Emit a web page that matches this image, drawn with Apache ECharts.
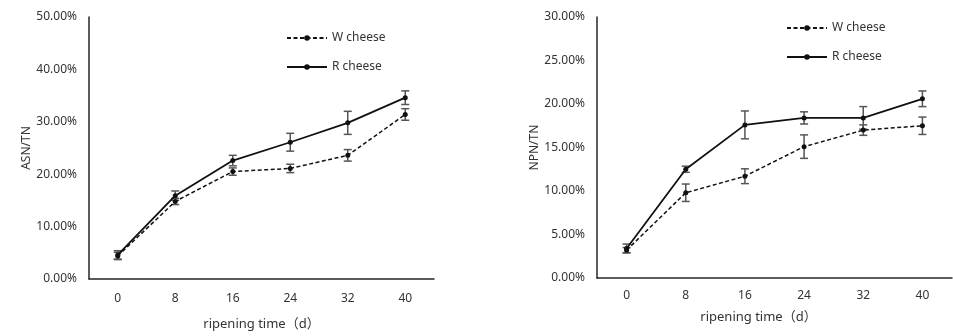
<!DOCTYPE html>
<html>
<head>
<meta charset="utf-8">
<script src="https://cdn.jsdelivr.net/npm/echarts@6/dist/echarts.min.js"></script>
<style>
  html, body { margin: 0; padding: 0; background: #fff; }
  #chart { width: 953px; height: 336px; }
</style>
</head>
<body>
<div id="chart"></div>
<script>
// Ripening time (days)
const days = ['0', '8', '16', '24', '32', '40'];

// ASN/TN (%) with standard deviations
const asnW = [4.4, 14.8, 20.5, 21.1, 23.6, 31.4];
const asnWErr = [0.7, 0.6, 0.7, 0.8, 1.1, 1.1];
const asnR = [4.6, 15.9, 22.6, 26.1, 29.8, 34.6];
const asnRErr = [0.8, 0.9, 1.0, 1.7, 2.2, 1.3];

// NPN/TN (%) with standard deviations
const npnW = [3.2, 9.8, 11.7, 15.1, 17.0, 17.5];
const npnWErr = [0.3, 1.0, 0.85, 1.35, 0.6, 1.0];
const npnR = [3.4, 12.5, 17.6, 18.4, 18.4, 20.6];
const npnRErr = [0.5, 0.35, 1.6, 0.7, 1.3, 0.9];

const FONT = '"Noto Sans", "Noto Sans CJK SC", sans-serif';
const AXIS_COLOR = '#262626';
const TEXT_COLOR = '#333';

function errData(vals, errs) {
  return vals.map((v, i) => [i, v - errs[i], v + errs[i]]);
}

function renderErr(params, api) {
  const i = api.value(0);
  const lo = api.coord([i, api.value(1)]);
  const hi = api.coord([i, api.value(2)]);
  const cap = 4;
  const style = { stroke: '#555', lineWidth: 1.5 };
  return {
    type: 'group',
    children: [
      { type: 'line', shape: { x1: lo[0], y1: lo[1], x2: hi[0], y2: hi[1] }, style },
      { type: 'line', shape: { x1: lo[0] - cap, y1: lo[1], x2: lo[0] + cap, y2: lo[1] }, style },
      { type: 'line', shape: { x1: hi[0] - cap, y1: hi[1], x2: hi[0] + cap, y2: hi[1] }, style }
    ]
  };
}

function xAxis(gridIndex, nameGap, labelMargin, namePad) {
  return {
    type: 'category',
    gridIndex,
    data: days,
    boundaryGap: true,
    name: 'ripening time（d）',
    nameLocation: 'middle',
    nameGap,
    nameTextStyle: { fontFamily: FONT, fontSize: 13, color: TEXT_COLOR, padding: namePad },
    axisLine: { lineStyle: { color: AXIS_COLOR, width: 1.5 } },
    axisTick: { inside: true, length: 6, lineStyle: { color: AXIS_COLOR, width: 1.5 } },
    axisLabel: { fontFamily: FONT, fontSize: 12, color: TEXT_COLOR, margin: labelMargin }
  };
}

function yAxis(gridIndex, name, max, interval) {
  return {
    type: 'value',
    gridIndex,
    min: 0,
    max,
    interval,
    name,
    nameLocation: 'middle',
    nameGap: 56,
    nameTextStyle: { fontFamily: FONT, fontSize: 12, color: TEXT_COLOR },
    axisLine: { show: true, lineStyle: { color: AXIS_COLOR, width: 1.5 } },
    axisTick: { show: false },
    splitLine: { show: false },
    axisLabel: {
      fontFamily: FONT, fontSize: 12, color: TEXT_COLOR, margin: 12,
      formatter: v => v.toFixed(2) + '%'
    }
  };
}

function lineSeries(name, data, idx, dashed) {
  return {
    type: 'line',
    name,
    xAxisIndex: idx,
    yAxisIndex: idx,
    data,
    symbol: 'circle',
    symbolSize: 5,
    itemStyle: { color: '#111' },
    lineStyle: { color: '#111', width: dashed ? 1.5 : 1.8, type: dashed ? [4, 2.5] : 'solid' },
    z: 3
  };
}

function errSeries(data, idx) {
  return {
    type: 'custom',
    xAxisIndex: idx,
    yAxisIndex: idx,
    data,
    encode: { x: 0, y: [1, 2] },
    renderItem: renderErr,
    z: 2
  };
}

function legend(left, top) {
  return {
    orient: 'vertical',
    left,
    top,
    padding: 0,
    data: ['W cheese', 'R cheese'],
    itemWidth: 40,
    itemHeight: 7,
    itemGap: 17,
    textStyle: { fontFamily: FONT, fontSize: 12, color: TEXT_COLOR },
    selectedMode: false
  };
}

const chart = echarts.init(document.getElementById('chart'), null, { renderer: 'canvas' });
chart.setOption({
  animation: false,
  backgroundColor: '#fff',
  grid: [
    { left: 89, right: 519, top: 17, bottom: 55 },
    { left: 597, right: 1, top: 17, bottom: 58 }
  ],
  legend: [legend(286, 32), legend(786, 22)],
  xAxis: [xAxis(0, 39, 14, [0, 0, 0, 0]), xAxis(1, 33, 12, [0, 32, 0, 0])],
  yAxis: [yAxis(0, 'ASN/TN', 50, 10), yAxis(1, 'NPN/TN', 30, 5)],
  series: [
    errSeries(errData(asnW, asnWErr), 0),
    errSeries(errData(asnR, asnRErr), 0),
    lineSeries('W cheese', asnW, 0, true),
    lineSeries('R cheese', asnR, 0, false),
    errSeries(errData(npnW, npnWErr), 1),
    errSeries(errData(npnR, npnRErr), 1),
    lineSeries('W cheese', npnW, 1, true),
    lineSeries('R cheese', npnR, 1, false)
  ]
});
</script>
</body>
</html>
